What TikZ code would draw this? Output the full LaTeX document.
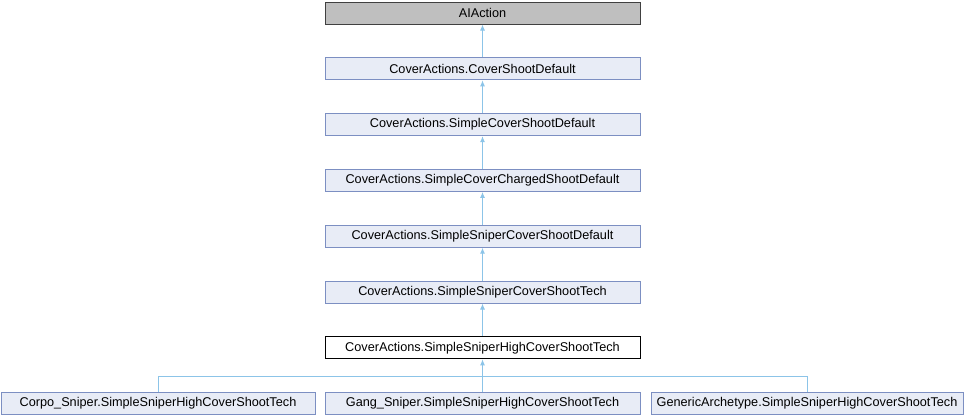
\documentclass[tikz,border=0pt]{standalone}
\usepackage{fontspec}
\setmainfont{Liberation Sans}
\usepackage{xcolor}
\usepackage{tikz}
\usetikzlibrary{arrows.meta,positioning}
\definecolor{cBoxFill}{HTML}{E8ECF6}
\definecolor{cBoxLine}{HTML}{7C8FC2}
\definecolor{cEdge}{HTML}{8CC4E8}
\definecolor{cRootFill}{HTML}{BFBFBF}
\definecolor{cRootLine}{HTML}{404040}

\begin{document}
\begin{tikzpicture}[
        x=1pt, y=1pt,
        cls/.style={draw=cBoxLine, fill=cBoxFill, line width=1pt, inner sep=0pt,
                    minimum width=315pt, minimum height=22pt,
                    font=\fontsize{12.7}{14}\selectfont},
        root/.style={cls, draw=cRootLine, fill=cRootFill},
        self/.style={cls, draw=black, fill=white},
        arr/.style={{Latex[length=6pt,width=5pt]}-, line width=1pt, cEdge},
        bus/.style={line width=1pt, cEdge},
        node distance=32.8pt,
    ]
        \useasboundingbox (0,0) rectangle (965,-416);

        \node[root] (ai) at (482.5,-13) {AIAction};
        \node[cls, below=of ai] (csd) {CoverActions.CoverShootDefault};
        \node[cls, below=of csd] (scsd) {CoverActions.SimpleCoverShootDefault};
        \node[cls, below=of scsd] (sccsd) {CoverActions.SimpleCoverChargedShootDefault};
        \node[cls, below=of sccsd] (sscsd) {CoverActions.SimpleSniperCoverShootDefault};
        \node[cls, below=of sscsd] (ssct) {CoverActions.SimpleSniperCoverShootTech};
        \node[self, below=of ssct] (sshct) {CoverActions.SimpleSniperHighCoverShootTech};

        \node[cls, below=of sshct] (gang) {Gang\_Sniper.SimpleSniperHighCoverShootTech};
        \node[cls, minimum width=314pt, left=9pt of gang] (corpo) {Corpo\_Sniper.SimpleSniperHighCoverShootTech};
        \node[cls, minimum width=312pt, right=10pt of gang] (generic) {GenericArchetype.SimpleSniperHighCoverShootTech};

        \draw[arr] (ai) -- (csd);
        \draw[arr] (csd) -- (scsd);
        \draw[arr] (scsd) -- (sccsd);
        \draw[arr] (sccsd) -- (sscsd);
        \draw[arr] (sscsd) -- (ssct);
        \draw[arr] (ssct) -- (sshct);

        \coordinate (join) at ([yshift=-17pt]sshct.south);
        \draw[arr] (sshct) -- (gang);
        \draw[bus] (corpo.north) |- (join);
        \draw[bus] (generic.north) |- (join);
    \end{tikzpicture}
\end{document}
